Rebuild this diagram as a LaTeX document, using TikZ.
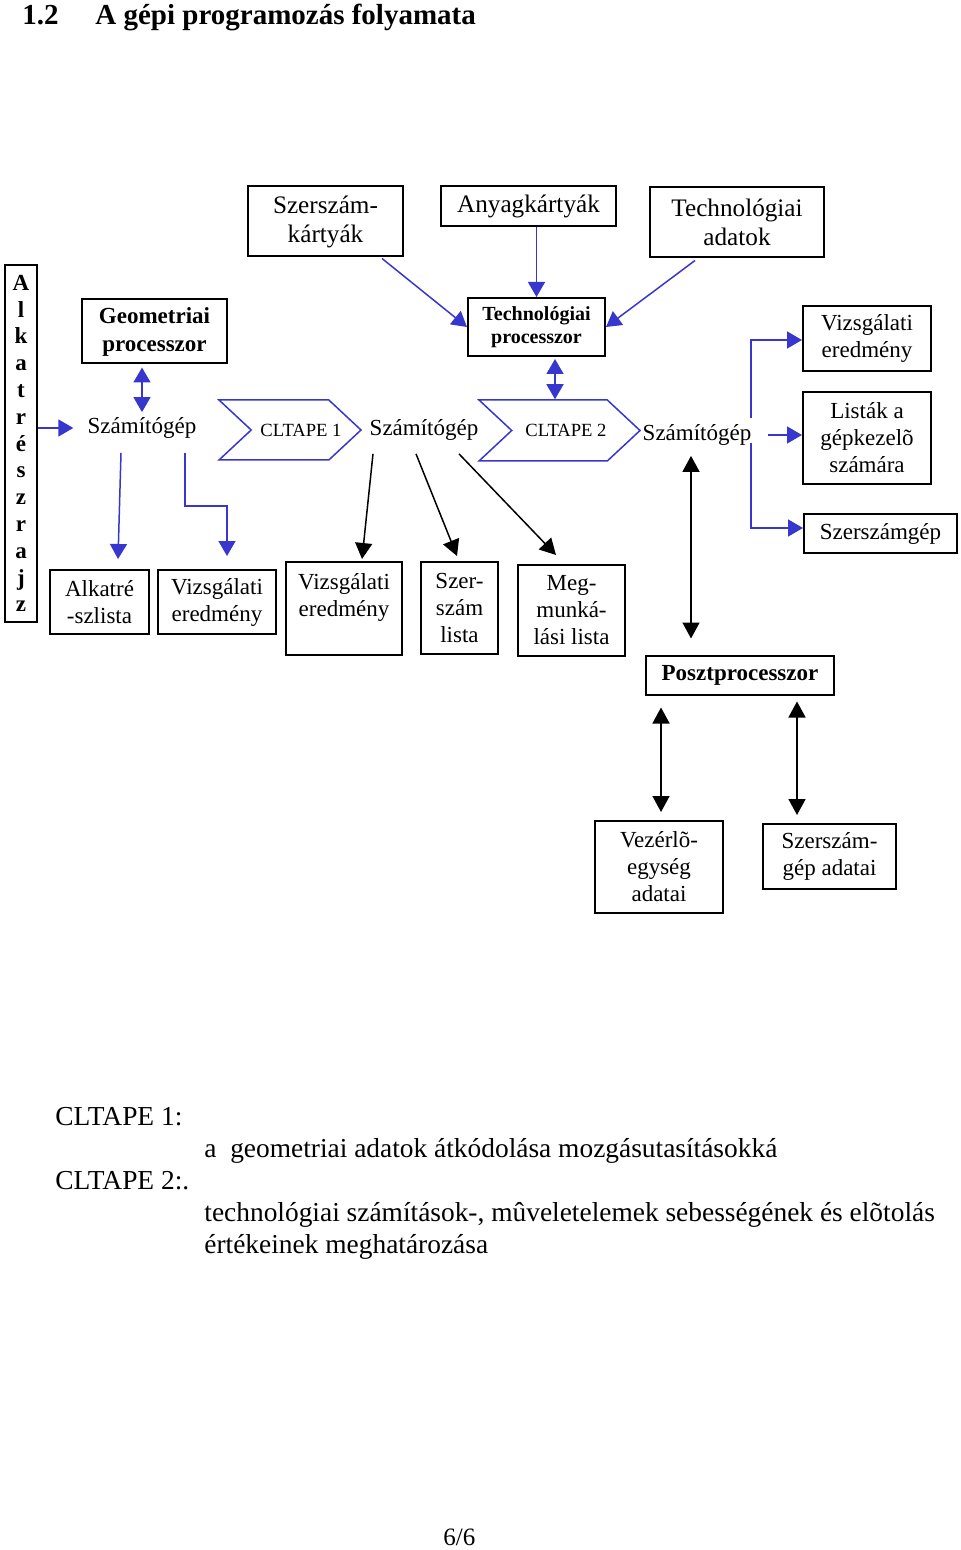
\documentclass[tikz,border=0pt]{standalone}
\usepackage{fontspec}
\setmainfont{Liberation Serif}
\usetikzlibrary{arrows.meta,shapes.symbols,calc}
\definecolor{arrowblue}{RGB}{55,55,205}

\tikzstyle{txtbox}=[draw=black,line width=1pt,inner sep=0pt,align=center,font=\fontsize{11.5}{13.5}\selectfont]
\tikzstyle{bigbox}=[txtbox,font=\fontsize{12.6}{14.5}\selectfont]
\tikzstyle{boldbox}=[txtbox,font=\bfseries\fontsize{11.5}{14}\selectfont]
\tikzstyle{procbox}=[txtbox,font=\bfseries\fontsize{10}{11.5}\selectfont]
\tikzstyle{plain}=[inner sep=7pt,font=\fontsize{11.5}{13.5}\selectfont]
\tikzstyle{tape}=[draw=arrowblue,line width=0.75pt,shape=signal,signal from=west,signal to=east,signal pointer angle=86,inner sep=0pt,font=\fontsize{9.3}{11}\selectfont]
\tikzstyle{headline}=[anchor=base west,inner sep=0pt,font=\bfseries\fontsize{14.5}{17}\selectfont]
\tikzstyle{note}=[anchor=base west,inner sep=0pt,font=\fontsize{13.7}{16}\selectfont]
\tikzstyle{bluearrow}=[color=arrowblue,line width=0.75pt,-{Triangle[length=7.5pt,width=8.5pt]}]
\tikzstyle{bluedbl}=[bluearrow,{Triangle[length=7.5pt,width=8.5pt]}-{Triangle[length=7.5pt,width=8.5pt]}]
\tikzstyle{blackarrow}=[color=black,line width=0.75pt,-{Triangle[length=8pt,width=8.5pt]}]
\tikzstyle{blackdbl}=[blackarrow,{Triangle[length=8pt,width=8.5pt]}-{Triangle[length=8pt,width=8.5pt]}]

\newcommand{\mybox}[6]{\node[#1,minimum width=#4*0.5pt,minimum height=#5*0.5pt] (#2) at (#3) {#6};}
\newcommand{\mytape}[6]{\node[tape,minimum width=#3*0.5pt,minimum height=#4*0.5pt] (#1) at (#2) {\makebox[0pt]{\hspace*{#5}#6}};}

\begin{document}
\begin{tikzpicture}[x=0.5pt,y=-0.5pt]
    \useasboundingbox (0,0) rectangle (960,1550);
    % heading
    \node[headline] (num) at (22,25) {1.2};
    \node[headline] (head) at (95,25) {A gépi programozás folyamata};

    % input cards
    \mybox{bigbox}{sk}{325.5,221.5}{155}{70}{Szerszám-\\kártyák}
    \mybox{bigbox}{ak}{528.5,206.5}{175}{40}{Anyagkártyák}
    \mybox{bigbox}{ta}{737,222.5}{174}{70}{Technológiai\\adatok}

    % part drawing and processors
    \mybox{boldbox,font=\bfseries\fontsize{11.5}{13.4}\selectfont}{alk}{21,443.5}{32}{357}{A\\l\\k\\a\\t\\r\\é\\s\\z\\r\\a\\j\\z}
    \mybox{boldbox}{gp}{154.5,331.5}{145}{64}{Geometriai\\processzor}
    \mybox{procbox}{tp}{536.5,327}{137}{58}{Technológiai\\processzor}
    \mybox{boldbox}{pp}{740,675}{188}{39}{Posztprocesszor}

    % computers and tapes
    \node[plain] (szg1) at (142,428) {Számítógép};
    \mytape{cl1}{290,430}{142}{60}{11pt}{CLTAPE 1}
    \node[plain] (szg2) at (424,430) {Számítógép};
    \mytape{cl2}{559.5,430.5}{161}{61}{6.5pt}{CLTAPE 2}
    \coordinate (brt) at (751,340);
    \coordinate (gapt) at (751,418);
    \coordinate (gapb) at (751,443);
    \coordinate (brb) at (751,528);
    \node[plain] (szg3) at (697,435) {Számítógép};

    % outputs
    \mybox{txtbox}{al}{99.5,602}{99}{64}{Alkatré\\-szlista}
    \mybox{txtbox}{vz1}{217,602}{118}{64}{Vizsgálati\\eredmény}
    \mybox{txtbox}{vz2}{344,608.5}{116}{93}{Vizsgálati\\eredmény\\\mbox{}}
    \mybox{txtbox}{szl}{459.5,608}{77}{92}{Szer-\\szám\\lista}
    \mybox{txtbox}{mml}{571.5,610.5}{107}{91}{Meg-\\munká-\\lási lista}
    \mybox{txtbox}{ve3}{867,338.5}{128}{65}{Vizsgálati\\eredmény}
    \mybox{txtbox}{lk}{867,438}{128}{92}{Listák a\\gépkezelõ\\számára}
    \mybox{txtbox}{szgp}{880.5,533.5}{153}{39}{Szerszámgép}
    \mybox{txtbox}{ved}{659,867}{128}{92}{Vezérlõ-\\egység\\adatai}
    \mybox{txtbox}{szga}{829.5,856.5}{133}{65}{Szerszám-\\gép adatai}

    % blue connectors
    \draw[bluearrow] (alk.east |- szg1.west) -- (szg1.west);
    \draw[bluedbl,shorten <=1.5pt] (szg1.north |- gp.south) -- ($(szg1.north)+(0,9)$);
    \draw[bluearrow] ($(szg1.south)+(-21,0)$) -- ($(al.north)+(18.5,-10)$);
    \draw[bluearrow] ($(szg1.south)+(43,0)$) -- ++(0,53) -| ($(vz1.north)+(10,-13)$);
    \draw[bluearrow] ($(sk.south)+(56.5,1)$) -- (tp.west);
    \draw[bluearrow] (ak.south -| tp.north) -- (tp.north);
    \draw[bluearrow] ($(ta.south)+(-42,2)$) -- (tp.east);
    \draw[bluedbl] ($(tp.south)+(18.5,2)$) coordinate (tps) -- (tps |- cl2.north);
    \draw[bluearrow] (gapt) -- (brt) -- (brt -| ve3.west);
    \draw[bluearrow] (gapb) -- (brb) -- (brb -| szgp.west);
    \draw[bluearrow] ($(szg3.east)+(2,0)$) -- (szg3.east -| lk.west);

    % black connectors
    \draw[blackarrow] ($(szg2.south)+(-51,-1)$) -- ($(vz2.north)+(18,-2)$);
    \draw[blackarrow] ($(szg2.south)+(-8,-1)$) -- ($(szl.north)+(-2.5,-5)$);
    \draw[blackarrow] ($(szg2.south)+(35,-1)$) -- ($(mml.north)+(-15.5,-9)$);
    \draw[blackdbl] ($(szg3.south)+(-6,-4)$) -- ($(pp.north)+(-49,-16)$);
    \draw[blackdbl] ($(pp.south)+(-79,12)$) -- ($(ved.north)+(2,-8)$);
    \draw[blackdbl] ($(pp.south)+(57,6)$) -- ($(szga.north)+(-32.5,-8)$);

    % notes
    \node[note] (n1) at (55,1125) {CLTAPE 1:};
    \node[note] (n1t) at (204,1157) {a~~geometriai adatok átkódolása mozgásutasításokká};
    \node[note] (n2) at (55,1189) {CLTAPE 2:.};
    \node[note] (n2t) at (204,1221) {technológiai számítások-, mûveletelemek sebességének és elõtolás};
    \node[note] (n2u) at (204,1253) {értékeinek meghatározása};
    \node[note,font=\fontsize{12.5}{15}\selectfont] (pg) at (443,1545) {6/6};
\end{tikzpicture}
\end{document}
